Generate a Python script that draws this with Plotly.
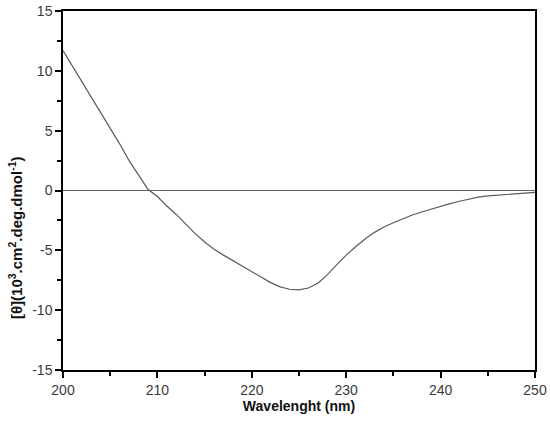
import plotly.graph_objects as go

wavelength = list(range(200, 251))
ellipticity = [
    11.7, 10.4, 9.2, 7.9, 6.6, 5.3, 3.9, 2.5, 1.3, 0.1,
    -0.5, -1.3, -2.0, -2.8, -3.6, -4.3, -4.9, -5.4, -5.85, -6.3,
    -6.75, -7.2, -7.7, -8.05, -8.25, -8.3, -8.15, -7.75, -7.05, -6.2,
    -5.4, -4.7, -4.05, -3.5, -3.05, -2.7, -2.35, -2.05, -1.8, -1.55,
    -1.3, -1.1, -0.9, -0.7, -0.55, -0.45, -0.38, -0.32, -0.26, -0.2,
    -0.16,
]
x_ticks = [200, 210, 220, 230, 240, 250]
y_ticks = [-15, -10, -5, 0, 5, 10, 15]
y_tick_labels = ["-15", "-10", "-5", "0", "5", "10", "15"]

fig = go.Figure()
fig.add_trace(go.Scatter(
    x=wavelength, y=ellipticity, mode="lines",
    line=dict(color="#5a5a5a", width=1.2), showlegend=False,
))

fam = "Liberation Sans, Arial, sans-serif"
tick_font = dict(family=fam, size=14, color="#3a3a3a")
fig.update_layout(
    width=550, height=425,
    margin=dict(l=63, r=15, t=11, b=55, autoexpand=False),
    paper_bgcolor="white", plot_bgcolor="white",
    font=tick_font,
    xaxis=dict(
        range=[200, 250], tickvals=x_ticks, ticks="outside", ticklen=6,
        tickwidth=1.5, tickcolor="black", automargin=False,
        ticklabeloverflow="allow",
        minor=dict(dtick=5, ticks="outside", ticklen=4, tickwidth=1.5, tickcolor="black"),
        showline=True, linecolor="black", linewidth=1.5, mirror=True,
        showgrid=False, zeroline=False, tickfont=tick_font,
        title=dict(text="<b>Wavelenght (nm)</b>", standoff=2,
                   font=dict(family=fam, size=14, color="#111111")),
    ),
    yaxis=dict(
        range=[-15, 15], tickvals=y_ticks, ticktext=y_tick_labels,
        ticks="outside", ticklen=6, automargin=False,
        ticklabeloverflow="allow",
        tickwidth=1.5, tickcolor="black",
        minor=dict(dtick=2.5, ticks="outside", ticklen=4, tickwidth=1.5, tickcolor="black"),
        showline=True, linecolor="black", linewidth=1.5, mirror=True,
        showgrid=False, zeroline=True, zerolinecolor="#666666", zerolinewidth=1.2,
        tickfont=tick_font,
    ),
)
fig.add_annotation(
    text="<b>[θ](10<sup>3</sup>.cm<sup>2</sup>.deg.dmol<sup>-1</sup>)</b>",
    xref="paper", yref="paper", x=-0.102, y=0.37,
    xanchor="center", yanchor="middle", textangle=-90, showarrow=False,
    font=dict(family=fam, size=15, color="#111111"),
)
fig.write_html("out.html", config={"displayModeBar": False},
               post_script="document.body.style.margin='0px';")
